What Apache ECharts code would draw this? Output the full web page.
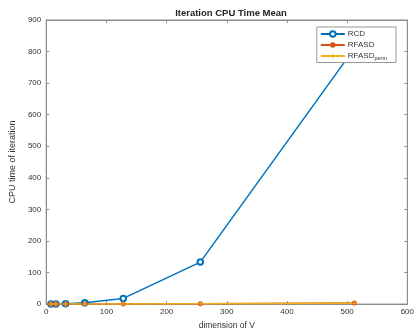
<!DOCTYPE html>
<html>
<head>
<meta charset="utf-8">
<script src="https://cdn.jsdelivr.net/npm/echarts@6/dist/echarts.min.js"></script>
<style>
  html, body { margin: 0; padding: 0; background: #fff; }
  #chart { width: 417px; height: 335px; }
</style>
</head>
<body>
<div id="chart"></div>
<script>
// Problem sizes (dimension of V)
const dims = [8, 16, 32, 64, 128, 256, 512];
// Mean CPU time per iteration for each method
const rcd = [0.1, 0.3, 1, 4, 18, 133, 810];
const rfasd = [0.02, 0.05, 0.1, 0.2, 0.5, 1.2, 3.5];
const rfasdPerm = [0.02, 0.04, 0.1, 0.2, 0.4, 1.0, 3.0];

const xTicks = { min: 0, max: 600, interval: 100 };
const yTicks = { min: 0, max: 900, interval: 100 };

const FONT = '"Liberation Sans", Arial, sans-serif';
const AXIS_COLOR = '#8c8c8c';
const TEXT_COLOR = '#333333';

const pairs = (ys) => dims.map((d, i) => [d, ys[i]]);

// thin "+" marker outline
const plusPath = 'path://M4.2,0 H5.8 V4.2 H10 V5.8 H5.8 V10 H4.2 V5.8 H0 V4.2 H4.2 Z';

const chart = echarts.init(document.getElementById('chart'), null, { renderer: 'canvas' });

const baseAxisLine = { show: true, onZero: false, lineStyle: { color: AXIS_COLOR, width: 1 } };
const tickIn = { show: true, inside: true, length: 3, lineStyle: { color: AXIS_COLOR } };

chart.setOption({
  animation: false,
  backgroundColor: '#ffffff',
  title: {
    text: 'Iteration CPU Time Mean',
    left: 226, top: 3,
    textAlign: 'center',
    textStyle: { fontFamily: FONT, fontSize: 9.5, fontWeight: 'bold', color: '#222' }
  },
  grid: {
    left: 45, top: 20, right: 9.5, bottom: 30, containLabel: false,
    show: true, borderColor: AXIS_COLOR, borderWidth: 1, backgroundColor: 'transparent'
  },
  legend: {
    right: 21, top: 27,
    orient: 'vertical',
    backgroundColor: '#fff',
    borderColor: '#999',
    borderWidth: 1,
    padding: [2, 9, 1, 3],
    itemGap: 1,
    itemWidth: 24,
    itemHeight: 7,
    textStyle: {
      fontFamily: FONT, fontSize: 8, color: TEXT_COLOR, padding: [0, 0, 0, -2],
      lineHeight: 10,
      rich: { sub: { fontSize: 5.5, fontFamily: FONT, color: TEXT_COLOR, padding: [5, 0, 0, 0] } }
    },
    formatter: (name) => name === 'RFASDperm' ? 'RFASD{sub|perm}' : name,
    data: ['RCD', 'RFASD', 'RFASDperm']
  },
  xAxis: [{
    type: 'value', ...xTicks,
    position: 'bottom',
    name: 'dimension of V',
    nameLocation: 'middle', nameGap: 16,
    nameTextStyle: { fontFamily: FONT, fontSize: 8.5, color: TEXT_COLOR },
    axisLine: baseAxisLine, axisTick: tickIn,
    axisLabel: { fontFamily: FONT, fontSize: 8, color: TEXT_COLOR, margin: 4 },
    splitLine: { show: false }
  }, {
    type: 'value', ...xTicks,
    position: 'top',
    axisLine: baseAxisLine, axisTick: tickIn,
    axisLabel: { show: false }, splitLine: { show: false }
  }],
  yAxis: [{
    type: 'value', ...yTicks,
    position: 'left',
    name: 'CPU time of iteration',
    nameLocation: 'middle', nameGap: 21,
    nameTextStyle: { fontFamily: FONT, fontSize: 9, color: TEXT_COLOR },
    axisLine: baseAxisLine, axisTick: tickIn,
    axisLabel: { fontFamily: FONT, fontSize: 8, color: TEXT_COLOR, margin: 5 },
    splitLine: { show: false }
  }, {
    type: 'value', ...yTicks,
    position: 'right',
    axisLine: baseAxisLine, axisTick: tickIn,
    axisLabel: { show: false }, splitLine: { show: false }
  }],
  series: [{
    name: 'RCD', type: 'line',
    data: pairs(rcd),
    symbol: 'emptyCircle', symbolSize: 5.5,
    lineStyle: { color: '#0072BD', width: 1.5 },
    itemStyle: { color: '#0072BD', borderWidth: 1, borderColor: '#0072BD' }
  }, {
    name: 'RFASD', type: 'line',
    data: pairs(rfasd),
    symbol: 'circle', symbolSize: 5,
    lineStyle: { color: '#D95319', width: 1.5 },
    itemStyle: { color: '#D95319' }
  }, {
    name: 'RFASDperm', type: 'line',
    data: pairs(rfasdPerm),
    symbol: plusPath, symbolSize: 6,
    lineStyle: { color: '#EDB120', width: 1.5 },
    itemStyle: { color: '#EDB120' }
  }]
});
</script>
</body>
</html>
